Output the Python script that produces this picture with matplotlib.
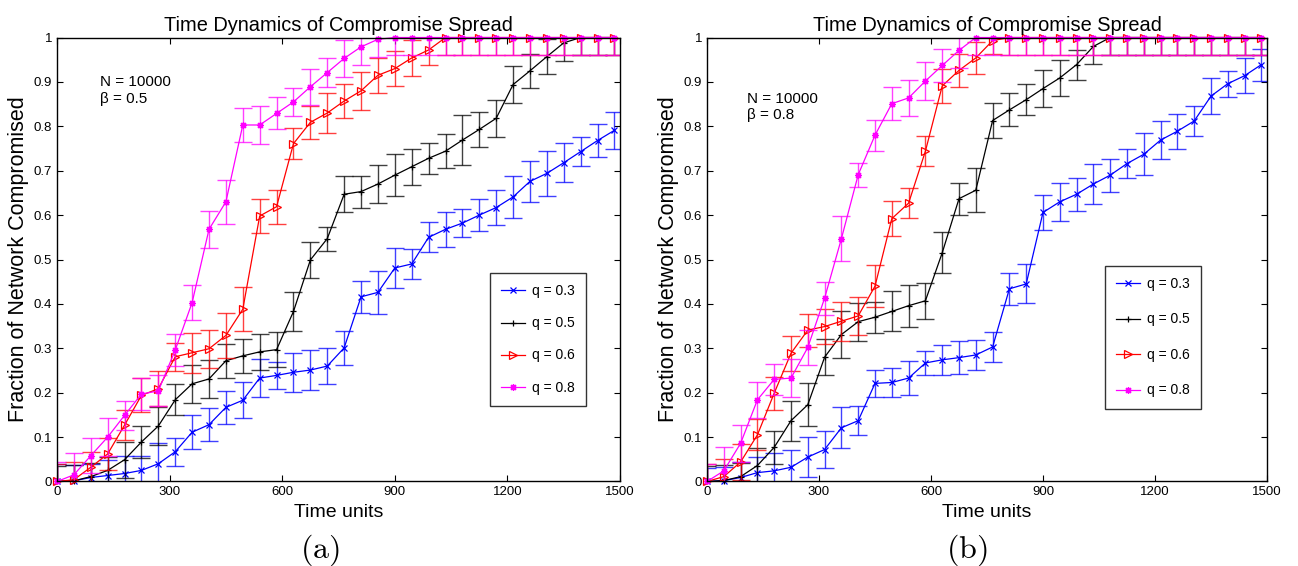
import matplotlib
matplotlib.use("Agg")
import matplotlib.pyplot as plt

plt.rcParams['font.family'] = ['Liberation Sans', 'DejaVu Sans']
plt.rcParams['mathtext.fontset'] = 'cm'

# sampled time points
t = [0, 45, 90, 135, 180, 225, 270, 315, 360, 405, 450, 495, 540, 585, 630, 675, 720,
     765, 810, 855, 900, 945, 990, 1035, 1080, 1125, 1170, 1215, 1260, 1305, 1350,
     1395, 1440, 1485]

labels = ['q = 0.3', 'q = 0.5', 'q = 0.6', 'q = 0.8']
colors = ['#0000ff', 'black', '#ff0000', '#ff00ff']
markers = ['x', '+', '>', (8, 2, 0)]

# (a) beta = 0.5
a_q3 = [0, 0.0015, 0.009, 0.0135, 0.018, 0.025, 0.04, 0.067, 0.111, 0.128, 0.167, 0.183,
        0.233, 0.239, 0.246, 0.251, 0.26, 0.301, 0.416, 0.426, 0.481, 0.49, 0.55, 0.568,
        0.582, 0.6, 0.617, 0.641, 0.676, 0.694, 0.718, 0.743, 0.768, 0.791]
a_q5 = [0, 0.0015, 0.011, 0.025, 0.049, 0.089, 0.125, 0.184, 0.22, 0.231, 0.272, 0.283,
        0.292, 0.297, 0.383, 0.499, 0.547, 0.647, 0.653, 0.67, 0.69, 0.709, 0.728, 0.744,
        0.769, 0.793, 0.818, 0.894, 0.925, 0.957, 0.988, 1, 1, 1]
a_q6 = [0, 0.004, 0.032, 0.062, 0.127, 0.194, 0.209, 0.281, 0.29, 0.299, 0.329, 0.388,
        0.598, 0.619, 0.761, 0.809, 0.83, 0.857, 0.88, 0.915, 0.93, 0.954, 0.972, 1, 1,
        1, 1, 1, 1, 1, 1, 1, 1, 1]
a_q8 = [0, 0.015, 0.058, 0.10, 0.149, 0.197, 0.204, 0.296, 0.403, 0.568, 0.63, 0.803,
        0.803, 0.829, 0.855, 0.889, 0.921, 0.953, 0.979, 0.996, 1, 1, 1, 1, 1, 1, 1, 1,
        1, 1, 1, 1, 1, 1]

a_q3_err = [0.04, 0.035, 0.03, 0.035, 0.04, 0.033, 0.047, 0.031, 0.038, 0.037, 0.037, 0.04,
            0.042, 0.03, 0.044, 0.045, 0.04, 0.038, 0.036, 0.049, 0.045, 0.033, 0.034, 0.04,
            0.031, 0.036, 0.039, 0.048, 0.046, 0.051, 0.044, 0.032, 0.038, 0.042]
a_q5_err = [0.035, 0.035, 0.03, 0.03, 0.04, 0.037, 0.043, 0.035, 0.043, 0.042, 0.038, 0.039,
            0.041, 0.04, 0.044, 0.04, 0.027, 0.041, 0.036, 0.042, 0.048, 0.041, 0.035, 0.039,
            0.057, 0.04, 0.042, 0.042, 0.039, 0.04, 0.04, 0.04, 0.04, 0.04]
a_q6_err = [0.04, 0.04, 0.035, 0.035, 0.034, 0.038, 0.039, 0.032, 0.045, 0.043, 0.05, 0.05,
            0.038, 0.038, 0.035, 0.037, 0.044, 0.039, 0.043, 0.039, 0.04, 0.041, 0.033, 0.04,
            0.04, 0.04, 0.04, 0.04, 0.04, 0.04, 0.04, 0.04, 0.04, 0.04]
a_q8_err = [0.044, 0.05, 0.039, 0.043, 0.032, 0.035, 0.035, 0.036, 0.04, 0.042, 0.05, 0.039,
            0.043, 0.036, 0.032, 0.041, 0.032, 0.041, 0.04, 0.04, 0.04, 0.04, 0.04, 0.04,
            0.04, 0.04, 0.04, 0.04, 0.04, 0.04, 0.04, 0.04, 0.04, 0.04]

# (b) beta = 0.8
b_q3 = [0, 0.002, 0.009, 0.02, 0.024, 0.032, 0.055, 0.072, 0.121, 0.137, 0.221, 0.223,
        0.233, 0.267, 0.274, 0.279, 0.285, 0.303, 0.434, 0.445, 0.606, 0.63, 0.647, 0.67,
        0.69, 0.716, 0.737, 0.769, 0.789, 0.812, 0.868, 0.896, 0.914, 0.939]
b_q5 = [0, 0.002, 0.011, 0.036, 0.077, 0.137, 0.173, 0.28, 0.331, 0.36, 0.37, 0.383,
        0.396, 0.407, 0.515, 0.637, 0.656, 0.813, 0.837, 0.86, 0.885, 0.909, 0.939, 0.98,
        1, 1, 1, 1, 1, 1, 1, 1, 1, 1]
b_q6 = [0, 0.011, 0.044, 0.105, 0.199, 0.289, 0.341, 0.349, 0.361, 0.373, 0.44, 0.592,
        0.627, 0.744, 0.891, 0.926, 0.954, 0.993, 1, 1, 1, 1, 1, 1, 1, 1, 1, 1, 1, 1, 1,
        1, 1, 1]
b_q8 = [0, 0.024, 0.086, 0.184, 0.23, 0.233, 0.302, 0.413, 0.547, 0.691, 0.78, 0.851,
        0.864, 0.902, 0.937, 0.971, 1, 1, 1, 1, 1, 1, 1, 1, 1, 1, 1, 1, 1, 1, 1, 1, 1, 1]

b_q3_err = [0.03, 0.03, 0.035, 0.035, 0.04, 0.04, 0.045, 0.042, 0.046, 0.033, 0.031, 0.033,
            0.038, 0.027, 0.034, 0.037, 0.033, 0.033, 0.036, 0.044, 0.039, 0.043, 0.037, 0.046,
            0.037, 0.032, 0.047, 0.043, 0.039, 0.034, 0.04, 0.029, 0.039, 0.036]
b_q5_err = [0.035, 0.035, 0.03, 0.04, 0.037, 0.045, 0.048, 0.041, 0.052, 0.043, 0.035, 0.045,
            0.047, 0.04, 0.046, 0.036, 0.049, 0.04, 0.037, 0.035, 0.042, 0.04, 0.034, 0.04,
            0.04, 0.04, 0.04, 0.04, 0.04, 0.04, 0.04, 0.04, 0.04, 0.04]
b_q6_err = [0.04, 0.04, 0.04, 0.035, 0.037, 0.039, 0.037, 0.039, 0.044, 0.042, 0.047, 0.039,
            0.033, 0.034, 0.039, 0.037, 0.036, 0.03, 0.04, 0.04, 0.04, 0.04, 0.04, 0.04,
            0.04, 0.04, 0.04, 0.04, 0.04, 0.04, 0.04, 0.04, 0.04, 0.04]
b_q8_err = [0.04, 0.054, 0.041, 0.04, 0.035, 0.043, 0.04, 0.037, 0.05, 0.027, 0.035, 0.037,
            0.041, 0.042, 0.037, 0.04, 0.04, 0.04, 0.04, 0.04, 0.04, 0.04, 0.04, 0.04,
            0.04, 0.04, 0.04, 0.04, 0.04, 0.04, 0.04, 0.04, 0.04, 0.04]

fig = plt.figure(figsize=(12.98, 5.66), dpi=100)
ax1 = fig.add_axes([0.0439, 0.1493, 0.4338, 0.7844])
ax2 = fig.add_axes([0.5447, 0.1493, 0.4314, 0.7844])


def draw(ax, series, errs, note, leg_center, spacing):
    for y, e, c, m, lab in zip(series, errs, colors, markers, labels):
        ax.errorbar(t, y, yerr=e, fmt='none', ecolor=c, elinewidth=1.0,
                    capsize=6.5, capthick=1.0, alpha=0.75)
        ms = 6 if m == '>' else 5
        ax.plot(t, y, color=c, marker=m, markersize=ms, linewidth=0.9,
                markerfacecolor='none' if m == '>' else c, markeredgewidth=0.9,
                label=lab, clip_on=False)
    ax.set_xlim(0, 1500)
    ax.set_ylim(0, 1)
    ax.set_xticks([0, 300, 600, 900, 1200, 1500])
    ax.set_yticks([0, 0.1, 0.2, 0.3, 0.4, 0.5, 0.6, 0.7, 0.8, 0.9, 1])
    ax.set_yticklabels(['0', '0.1', '0.2', '0.3', '0.4', '0.5', '0.6', '0.7', '0.8', '0.9', '1'])
    ax.tick_params(direction='in', top=True, right=True, length=4, width=0.8,
                   labelsize=9.5, pad=3.5)
    for s in ax.spines.values():
        s.set_linewidth(1.0)
    ax.set_title('Time Dynamics of Compromise Spread', fontsize=14.4, pad=5)
    ax.set_xlabel('Time units', fontsize=14, labelpad=4)
    ax.set_ylabel('Fraction of Network Compromised', fontsize=15.5, labelpad=3)
    ax.text(note[0], note[1], 'N = 10000\n\u03b2 = ' + note[2], fontsize=11,
            va='top', linespacing=1.25)
    leg = ax.legend(loc='center', bbox_to_anchor=leg_center, fontsize=10,
                    frameon=True, fancybox=False, edgecolor='black',
                    handlelength=1.7, labelspacing=spacing, borderpad=0.8,
                    handletextpad=0.5)
    leg.get_frame().set_linewidth(1.0)


draw(ax1, [a_q3, a_q5, a_q6, a_q8], [a_q3_err, a_q5_err, a_q6_err, a_q8_err],
     (115, 0.915, '0.5'), (0.854, 0.32), 1.3)
draw(ax2, [b_q3, b_q5, b_q6, b_q8], [b_q3_err, b_q5_err, b_q6_err, b_q8_err],
     (106, 0.878, '0.8'), (0.796, 0.325), 1.55)

fig.text(0.2465, 0.014, r'$\mathrm{(a)}$', fontsize=23, ha='center')
fig.text(0.745, 0.014, r'$\mathrm{(b)}$', fontsize=23, ha='center')

fig.savefig('out.png', dpi=100)
